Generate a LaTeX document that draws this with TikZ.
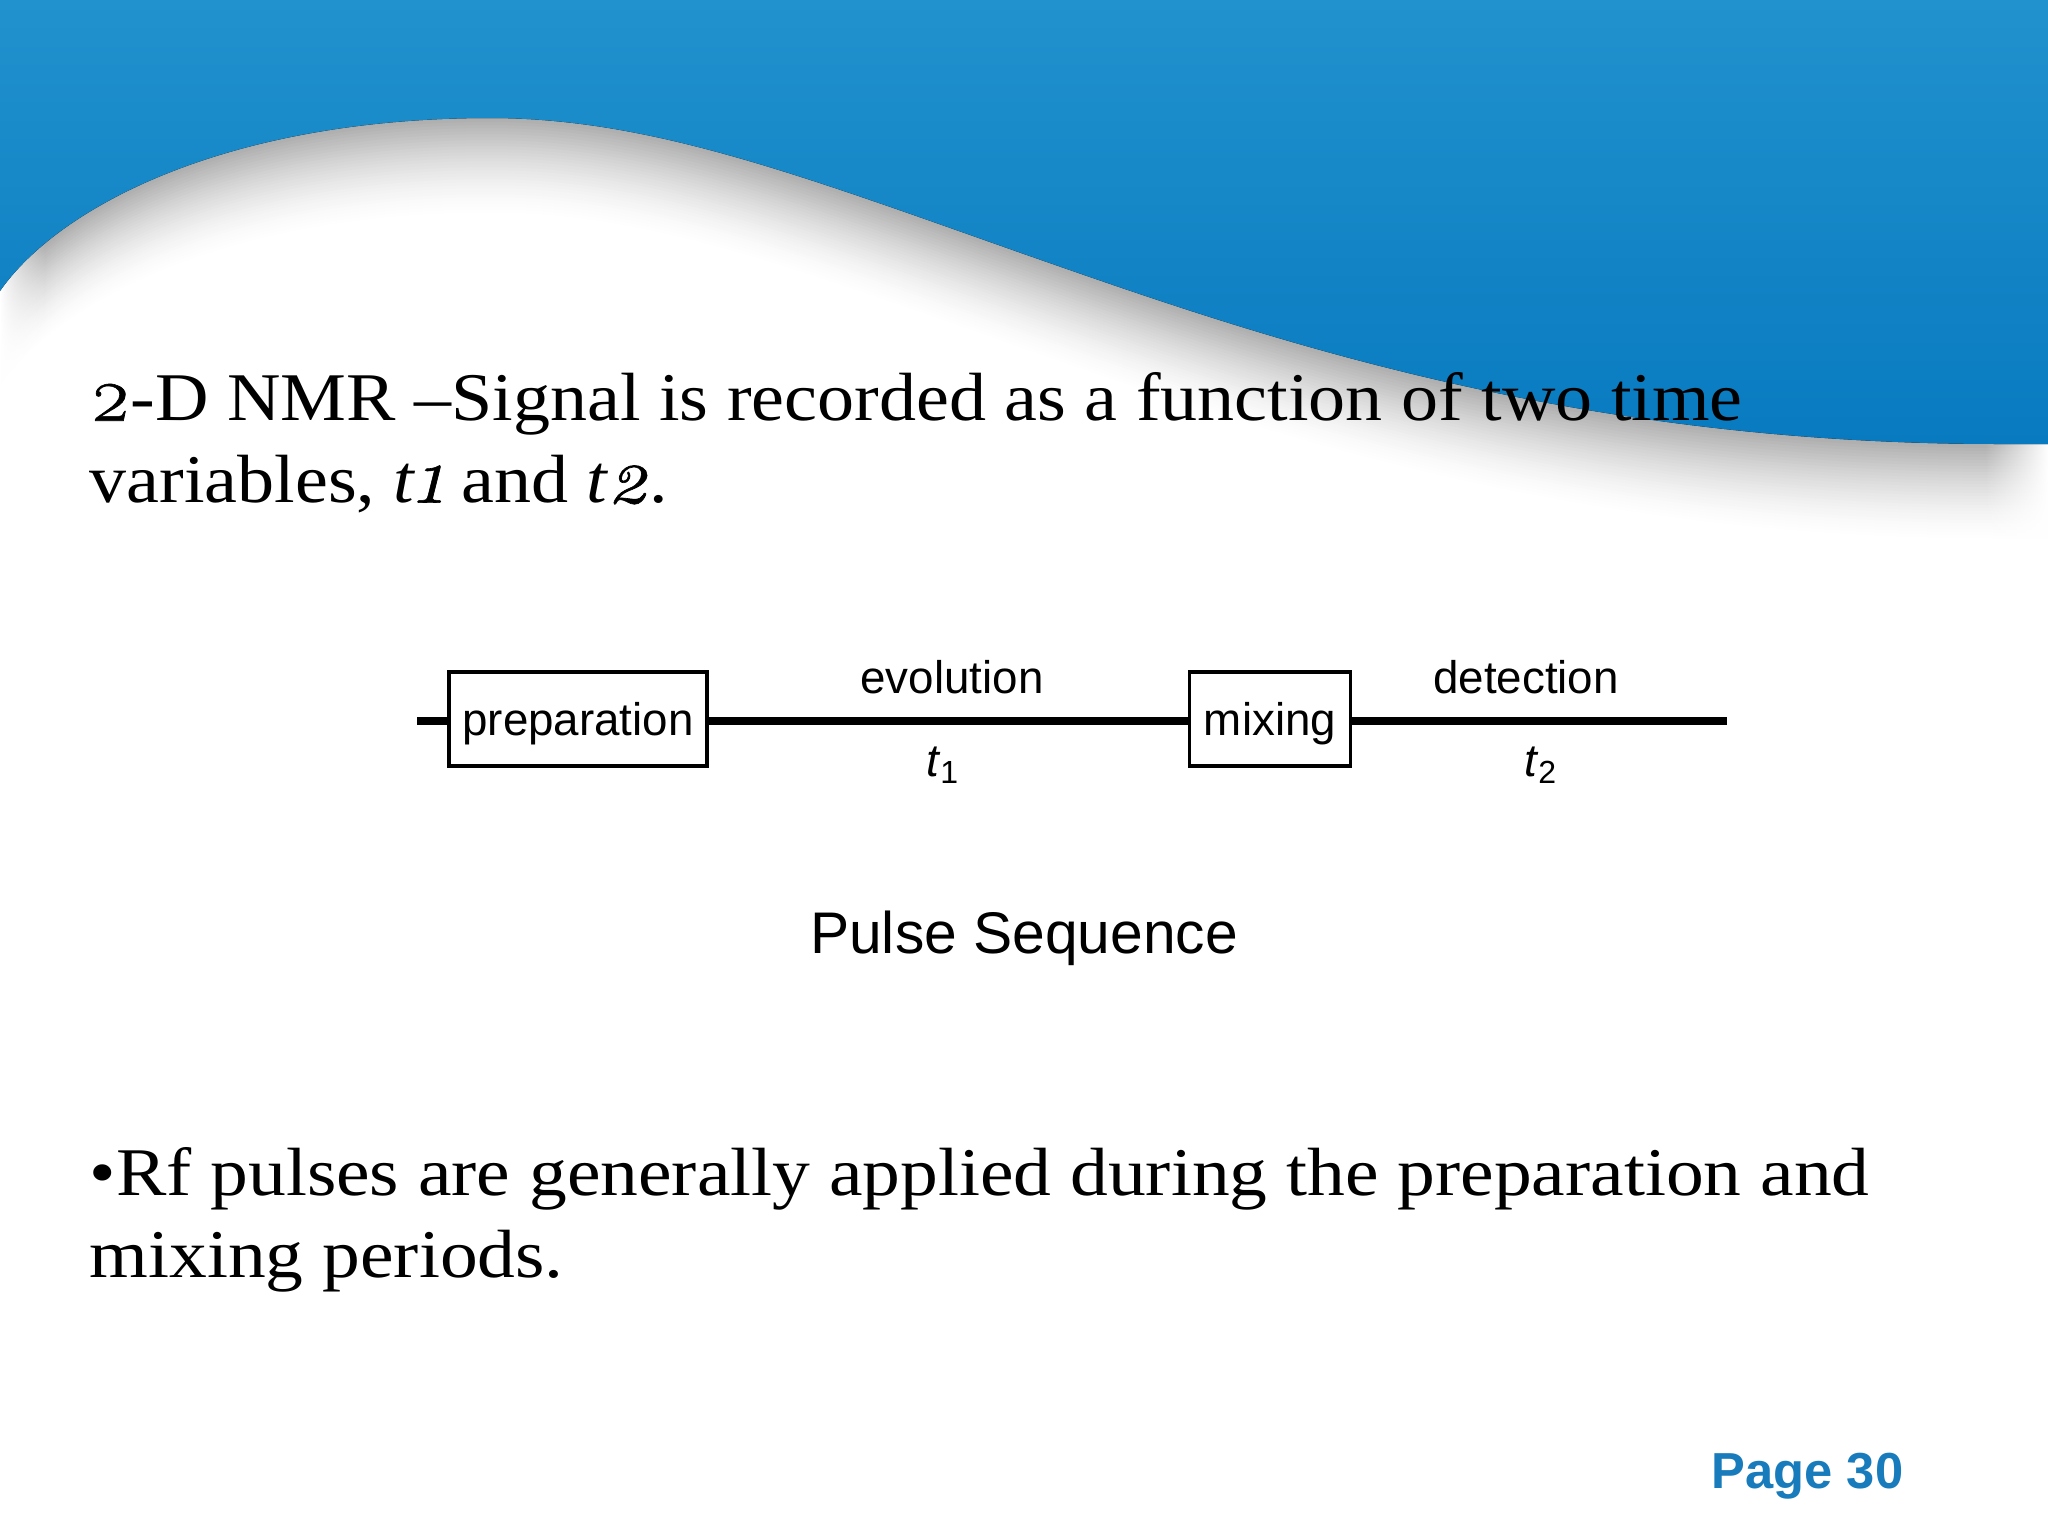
\documentclass[tikz,border=0pt]{standalone}
\usepackage{fontspec}
\usepackage{xcolor}
\setmainfont{Liberation Sans}
\newfontfamily\slidefont[FakeStretch=1.107]{Liberation Serif}
\newfontfamily\introfont[FakeStretch=1.085]{Liberation Serif}
\newfontfamily\digitfont[Numbers=OldStyle,FakeBold=0.8]{Latin Modern Roman}
\newcommand{\olddigit}[1]{{\digitfont\fontsize{22.5}{23.3}\selectfont #1}}
\usetikzlibrary{fadings}
\definecolor{wavetop}{RGB}{33,146,205}
\definecolor{wavelow}{RGB}{8,122,192}
\definecolor{pagecol}{RGB}{24,124,188}
\newcommand{\wavearea}{(0,0) -- (0,291) .. controls (60,205) and (230,118) .. (490,118) .. controls (650,118) and (800,175) .. (1024,254) .. controls (1250,333) and (1560,444) .. (2000,444) -- (2048,444) -- (2048,0) -- cycle}
\tikzstyle{body}=[font=\slidefont\fontsize{19.4}{23.3}\selectfont,align=left,anchor=north west,inner sep=0pt]
\tikzstyle{phase}=[rectangle,draw=black,line width=1pt,fill=white,inner sep=0pt,text depth=0pt,font=\fontsize{13}{15}\selectfont]
\tikzstyle{label}=[inner sep=0pt,anchor=base,font=\fontsize{13}{15}\selectfont]
\tikzstyle{seqline}=[line width=2.2pt,black]
\begin{document}
\begin{tikzpicture}[x=0.01cm,y=-0.01cm]
        \useasboundingbox (0,0) rectangle (2048,1536);
        \fill [white] (0,0) rectangle (2048,1536);

        % shadow under the wave
        \foreach \d in {100,97,...,1} {
          \pgfmathsetmacro{\g}{33*(1-\d/100)^1.6}
          \fill [black!\g!white,shift={(0,\d)}] \wavearea;
        }
        \fill [white,path fading=east] (0,180) rectangle (45,600);
        \fill [white,path fading=west] (1985,400) rectangle (2048,600);
        \fill [top color=wavetop,bottom color=wavelow] \wavearea;

        \node at (89,372) [body,font=\introfont\fontsize{19.4}{23.3}\selectfont] (intro) {\olddigit{2}-D NMR –Signal is recorded as a function of two time\\
          variables, \textit{t\olddigit{1}} and \textit{t\olddigit{2}}.};
        \node at (89,1147) [body] (note) {•Rf pulses are generally applied during the preparation and\\
          mixing periods.};

        \coordinate (start) at (417,721);
        \coordinate (stop) at (1727,721);
        \node at (578,719) [phase,minimum width=2.58cm,minimum height=0.94cm] (prep) {preparation};
        \node at (1270,719) [phase,minimum width=1.61cm,minimum height=0.94cm] (mix) {mixing};

        \draw [seqline] (start) -- (prep.west |- start);
        \draw [seqline] (prep.east |- start) -- (mix.west |- start);
        \draw [seqline] (mix.east |- start) -- (stop);

        \node at (952,693) [label] (evol) {evolution};
        \node at (1526,693) [label] (detect) {detection};
        \node at (943,776) [label] (tone) {\textit{t}\textsubscript{1}};
        \node at (1541,776) [label] (ttwo) {\textit{t}\textsubscript{2}};
        \node at (1024,953) [label,font=\fontsize{16.7}{20}\selectfont] (title) {Pulse Sequence};

        \node at (1904,1488) [anchor=base east,inner sep=0pt,text=pagecol,font=\bfseries\fontsize{14.4}{17}\selectfont] (page) {Page 30};
      \end{tikzpicture}
\end{document}
